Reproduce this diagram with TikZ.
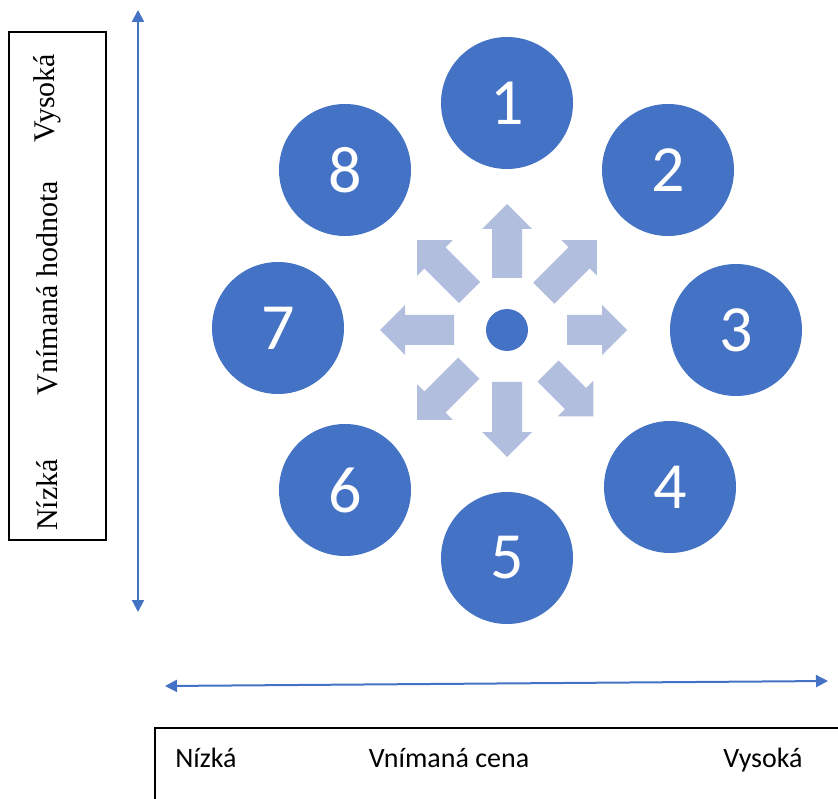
\documentclass[tikz,border=0pt]{standalone}
\usepackage{fontspec}
\setmainfont{Liberation Serif}
\newfontfamily\calibri{Carlito}
\usetikzlibrary{arrows.meta}
\definecolor{accblue}{RGB}{68,114,196}
\definecolor{lightarr}{RGB}{177,190,222}
\begin{document}
\begin{tikzpicture}[x=1pt,y=-1pt,
  numcircle/.style={circle,fill=accblue,minimum size=132pt,inner sep=0pt,text=white,font=\calibri\fontsize{66}{72}\selectfont},
  axisarrow/.style={accblue,line width=2pt,{Triangle[length=12pt,width=12pt]}-{Triangle[length=12pt,width=12pt]}},
  framebox/.style={draw=black,line width=1.3pt},
  sidelabel/.style={rotate=90,font=\fontsize{30}{34}\selectfont,inner sep=0pt},
  botlabel/.style={font=\calibri\fontsize{28}{32}\selectfont,inner sep=0pt,anchor=base}]
\useasboundingbox (0,0) rectangle (838,799);
\fill[white] (0,0) rectangle (838,799);
% left box and labels
\draw[framebox] (9,32) rectangle (106,540);
\node[sidelabel] (vys) at (47,98) {Vysoká};
\node[sidelabel] (vh) at (47,288) {Vnímaná hodnota};
\node[sidelabel] (niz) at (47,495) {Nízká};
% bottom box and labels
\draw[framebox] (155,799.5) -- (155,728) -- (839,728);
\node[botlabel] (bn) at (206,767) {Nízká};
\node[botlabel] (bc) at (449,767) {Vnímaná cena};
\node[botlabel] (bv) at (763,767) {Vysoká};
% axes
\coordinate (vtop) at (138,10);
\coordinate (vbot) at (138,612);
\coordinate (hl) at (165,686);
\coordinate (hr) at (828,681);
\draw[axisarrow] (vbot) -- (vtop);
\draw[axisarrow] (hl) -- (hr);
% circles
\node[numcircle] (c1) at (507,103) {1};
\node[numcircle] (c2) at (668,170) {2};
\node[numcircle] (c3) at (736,330) {3};
\node[numcircle] (c4) at (670,487) {4};
\node[numcircle] (c5) at (507,558) {5};
\node[numcircle] (c6) at (345,490) {6};
\node[numcircle] (c7) at (278,328) {7};
\node[numcircle] (c8) at (345,170) {8};
\node[circle,fill=accblue,minimum size=42pt,inner sep=0pt] (ctr) at (507,330) {};
% radial arrows
\foreach \a/\ra/\rb in {90/52/101, 0/60/95, 180/53/102, 270/52/102, 45/52/102, 135/53/102, 225/54/102, 315/58/97}{
  \begin{scope}[shift={(ctr.center)},rotate=\a]
    \fill[lightarr] (\ra,-15) -- (\rb,-15) -- (\rb,-25) -- ({\rb+25},0) -- (\rb,25) -- (\rb,15) -- (\ra,15) -- cycle;
  \end{scope}
}
\end{tikzpicture}
\end{document}
